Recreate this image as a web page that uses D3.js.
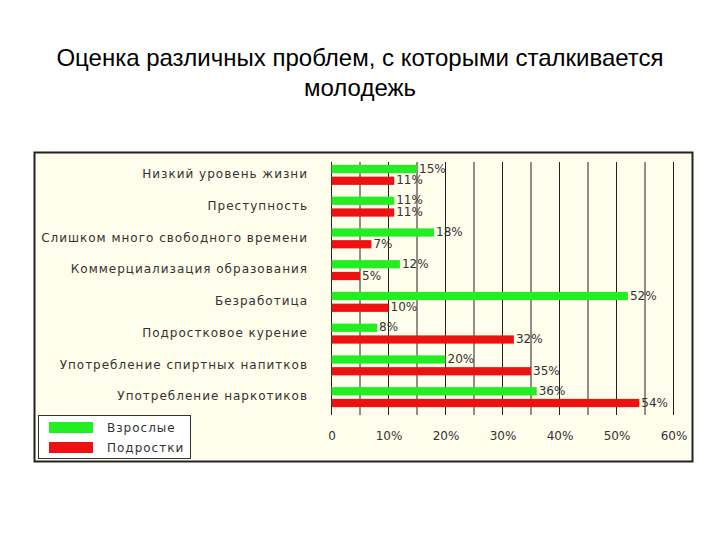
<!DOCTYPE html>
<html>
<head>
<meta charset="utf-8">
<script src="https://cdn.jsdelivr.net/npm/d3@7"></script>
<style>
body { margin: 0; background: #fff; }
</style>
</head>
<body>
<div id="chart"></div>
<script>
var w = 720;
var h = 540;

var categories = ["Низкий уровень жизни", "Преступность", "Слишком много свободного времени",
    "Коммерциализация образования", "Безработица", "Подростковое курение",
    "Употребление спиртных напитков", "Употребление наркотиков"];
var series = ["Взрослые", "Подростки"];
var adults = [15, 11, 18, 12, 52, 8, 20, 36];
var teens = [11, 11, 7, 5, 10, 32, 35, 54];
var tickLabels = [0, 10, 20, 30, 40, 50, 60];
var gridValues = [0, 5, 10, 15, 20, 25, 30, 35, 40, 45, 50, 55, 60];
var colors = ["#22ee22", "#ee1111"];

var svg = d3.select("#chart")
    .append("svg")
    .attr("width", w)
    .attr("height", h);

// title
svg.append("text")
    .attr("x", w / 2)
    .attr("y", 66)
    .attr("text-anchor", "middle")
    .attr("font-family", "Liberation Sans, Arial, sans-serif")
    .attr("font-size", "24px")
    .attr("fill", "#000")
    .text("Оценка различных проблем, с которыми сталкивается");
svg.append("text")
    .attr("x", w / 2)
    .attr("y", 96)
    .attr("text-anchor", "middle")
    .attr("font-family", "Liberation Sans, Arial, sans-serif")
    .attr("font-size", "24px")
    .attr("fill", "#000")
    .text("молодежь");

// panel
svg.append("rect")
    .attr("x", 34.5)
    .attr("y", 152.5)
    .attr("width", 658)
    .attr("height", 309)
    .attr("fill", "#fffdec")
    .attr("stroke", "#222")
    .attr("stroke-width", 2);

var xScale = d3.scaleLinear()
    .domain([0, 60])
    .range([331.5, 673.5]);

var yScale = d3.scaleBand()
    .domain(categories)
    .range([158, 412]);

var inner = d3.scaleBand()
    .domain(series)
    .range([-9, 11])
    .paddingInner(0.3);

// grid
svg.selectAll("line.grid")
    .data(gridValues)
    .enter()
    .append("line")
    .attr("class", "grid")
    .attr("x1", function(d) { return xScale(d); })
    .attr("x2", function(d) { return xScale(d); })
    .attr("y1", 162)
    .attr("y2", 415)
    .attr("stroke", "#222")
    .attr("stroke-width", 1);

// x labels
var xAxis = d3.axisBottom(xScale)
    .tickValues(tickLabels)
    .tickSize(0)
    .tickFormat(function(d) { return d === 0 ? "0" : d + "%"; });
var gx = svg.append("g")
    .attr("transform", "translate(0,428)")
    .call(xAxis);
gx.select(".domain").remove();
gx.selectAll("text")
    .attr("font-family", "DejaVu Sans, Verdana, sans-serif")
    .attr("font-size", "12px")
    .attr("fill", "#333");

// category labels
svg.selectAll("text.cat")
    .data(categories)
    .enter()
    .append("text")
    .attr("class", "cat")
    .attr("x", 308)
    .attr("y", function(d) { return yScale(d) + yScale.bandwidth() / 2; })
    .attr("dy", "0.35em")
    .attr("text-anchor", "end")
    .attr("font-family", "DejaVu Sans, Verdana, sans-serif")
    .attr("font-size", "12px")
    .attr("letter-spacing", "1px")
    .attr("fill", "#333")
    .text(function(d) { return d; });

var rows = [];
categories.forEach(function(c, i) {
    rows.push({cat: c, s: series[0], v: adults[i], color: colors[0]});
    rows.push({cat: c, s: series[1], v: teens[i], color: colors[1]});
});

// bars
svg.selectAll("rect.bar")
    .data(rows)
    .enter()
    .append("rect")
    .attr("class", "bar")
    .attr("x", xScale(0))
    .attr("y", function(d) { return yScale(d.cat) + yScale.bandwidth() / 2 + inner(d.s); })
    .attr("width", function(d) { return xScale(d.v) - xScale(0); })
    .attr("height", inner.bandwidth())
    .attr("fill", function(d) { return d.color; });

// value labels
svg.selectAll("text.val")
    .data(rows)
    .enter()
    .append("text")
    .attr("class", "val")
    .attr("x", function(d) { return xScale(d.v) + 2; })
    .attr("y", function(d) { return yScale(d.cat) + yScale.bandwidth() / 2 + inner(d.s) + inner.bandwidth() / 2; })
    .attr("dy", "0.3em")
    .attr("font-family", "DejaVu Sans, Verdana, sans-serif")
    .attr("font-size", "12px")
    .attr("fill", "#333")
    .text(function(d) { return d.v + "%"; });

// legend
svg.append("rect")
    .attr("x", 38.5)
    .attr("y", 415.5)
    .attr("width", 152)
    .attr("height", 43)
    .attr("fill", "#fff")
    .attr("stroke", "#333")
    .attr("stroke-width", 1);

var legend = svg.selectAll("g.leg")
    .data(series)
    .enter()
    .append("g")
    .attr("class", "leg")
    .attr("transform", function(d, i) { return "translate(49," + (422 + i * 20) + ")"; });
legend.append("rect")
    .attr("width", 44)
    .attr("height", 11)
    .attr("fill", function(d, i) { return colors[i]; });
legend.append("text")
    .attr("x", 58)
    .attr("y", 6)
    .attr("dy", "0.35em")
    .attr("font-family", "DejaVu Sans, Verdana, sans-serif")
    .attr("font-size", "12px")
    .attr("letter-spacing", "1px")
    .attr("fill", "#333")
    .text(function(d) { return d; });
</script>
</body>
</html>
